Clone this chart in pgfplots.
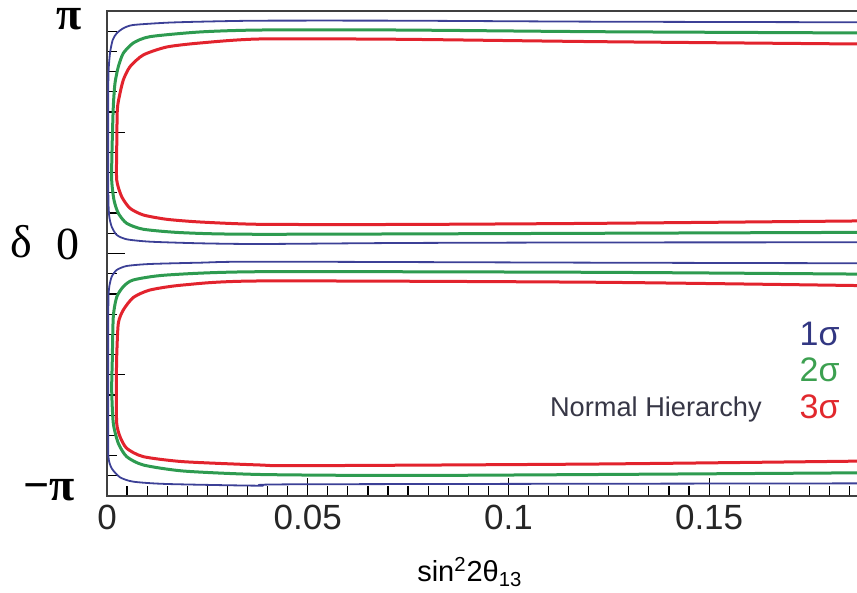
\documentclass[border=0pt]{standalone}
\usepackage{fontspec}
\setmainfont{Liberation Serif}
\newfontfamily\sansf{Liberation Sans}
\usepackage{pgfplots}
\pgfplotsset{compat=1.18}

\definecolor{cblue}{RGB}{60,64,150}
\definecolor{cgreen}{RGB}{46,155,80}
\definecolor{cred}{RGB}{226,35,45}
\definecolor{tblue}{RGB}{50,55,130}
\definecolor{tgreen}{RGB}{60,160,80}
\definecolor{tred}{RGB}{225,40,45}

\begin{document}
\begin{tikzpicture}
\begin{axis}[
  at={(0,0)}, anchor=south west,
  scale only axis,
  width=401.4pt, height=242.5pt,
  xmin=0, xmax=0.2,
  ymin=-3.14159, ymax=3.14159,
  clip=false,
  axis line style={black!75, line width=0.8pt},
  tick align=inside,
  xtick pos=bottom, ytick pos=left,
  xtick={0,0.05,0.1,0.15},
  xticklabels={0,0.05,0.1,0.15},
  minor xtick={0,0.005,...,0.2},
  ytick={-3.14159,-1.5708,0,1.5708,3.14159},
  yticklabels={},
  minor ytick={-2.87979,-2.61799,-2.35619,-2.09440,-1.83260,-1.30900,-1.04720,-0.78540,-0.52360,-0.26180,0.26180,0.52360,0.78540,1.04720,1.30900,1.83260,2.09440,2.35619,2.61799,2.87979},
  major tick length=9pt, minor tick length=5pt,
  every tick/.style={black, line width=0.6pt},
  xticklabel style={font=\sansf\fontsize{17.5}{17.5}\selectfont, inner sep=0pt, yshift=-4.5pt, text=black!85},
  every axis x label/.style={at={(axis description cs:0.452,-0.1767)}, anchor=base},
  xlabel={\sansf\fontsize{14.5}{14.5}\selectfont sin\textsuperscript{2}2θ\textsubscript{13}},
  every axis y label/.style={at={(axis description cs:-0.1071,0.5237)}, anchor=center, inner sep=0pt},
  ylabel={\fontsize{23}{23}\selectfont δ},
  every axis plot/.append style={smooth, tension=0.4, line join=round},
]
% 1 sigma, delta > 0
\addplot[cblue, line width=0.9pt] coordinates {
  (0.2,2.994) (0.1228,3.003) (0.0730,3.016) (0.0381,3.016) (0.0232,3.003)
  (0.01495,2.990) (0.00648,2.960) (0.00406,2.917) (0.00242,2.853)
  (0.00142,2.766) (0.00075,2.594) (0.00035,2.290) (0.00030,1.341)
  (0.00035,0.693) (0.00057,0.477) (0.00117,0.347) (0.00242,0.240)
  (0.00491,0.184) (0.01071,0.153) (0.0232,0.132) (0.0381,0.123)
  (0.0730,0.136) (0.1228,0.143) (0.2,0.145)
};
% 2 sigma, delta > 0
\addplot[cgreen, line width=1.5pt] coordinates {
  (0.2,2.854) (0.1228,2.873) (0.0730,2.895) (0.0381,2.895) (0.0232,2.870)
  (0.01071,2.809) (0.00655,2.727) (0.00406,2.594) (0.00282,2.420)
  (0.00199,2.205) (0.00157,1.902) (0.00125,1.341) (0.00117,0.952)
  (0.00174,0.693) (0.00282,0.521) (0.00491,0.391) (0.00904,0.314)
  (0.01893,0.269) (0.0381,0.249) (0.1228,0.262) (0.2,0.276)
};
% 3 sigma, delta > 0
\addplot[cred, line width=1.5pt] coordinates {
  (0.2,2.708) (0.1228,2.744) (0.0730,2.775) (0.0381,2.779) (0.0232,2.727)
  (0.01487,2.675) (0.00904,2.572) (0.00573,2.420) (0.00406,2.248)
  (0.00306,2.031) (0.00257,1.859) (0.00242,1.341) (0.00242,0.952)
  (0.00366,0.736) (0.00573,0.586) (0.00904,0.499) (0.01487,0.443)
  (0.0232,0.408) (0.0381,0.378) (0.0730,0.376) (0.1228,0.391) (0.2,0.428)
};
% 1 sigma, delta < 0
\addplot[cblue, line width=0.9pt] coordinates {
  (0.2,-0.128) (0.1228,-0.119) (0.0381,-0.106) (0.0232,-0.119)
  (0.01071,-0.136) (0.00491,-0.162) (0.00242,-0.214) (0.00117,-0.301)
  (0.00057,-0.430) (0.00035,-0.602) (0.00030,-1.380) (0.00030,-2.157)
  (0.00035,-2.632) (0.00117,-2.783) (0.00324,-2.899) (0.00655,-2.956)
  (0.01487,-2.986) (0.0381,-3.008) (0.0481,-2.990) (0.2,-2.977)
};
% 2 sigma, delta < 0
\addplot[cgreen, line width=1.5pt] coordinates {
  (0.2,-0.272) (0.1228,-0.244) (0.0381,-0.236) (0.01487,-0.279)
  (0.00655,-0.343) (0.00406,-0.430) (0.00242,-0.564) (0.00157,-0.819)
  (0.00132,-1.380) (0.00117,-1.768) (0.00157,-2.200) (0.00282,-2.459)
  (0.00491,-2.632) (0.00904,-2.740) (0.01901,-2.818) (0.0381,-2.863)
  (0.0730,-2.876) (0.1228,-2.863) (0.2,-2.837)
};
% 3 sigma, delta < 0
\addplot[cred, line width=1.5pt] coordinates {
  (0.2,-0.425) (0.1228,-0.373) (0.0381,-0.356) (0.01901,-0.408)
  (0.01071,-0.473) (0.00655,-0.570) (0.00406,-0.732) (0.00282,-0.904)
  (0.00242,-1.337) (0.00232,-1.768) (0.00242,-2.200) (0.00324,-2.373)
  (0.00491,-2.524) (0.00904,-2.632) (0.01901,-2.697) (0.0381,-2.740)
  (0.0481,-2.749) (0.1228,-2.727) (0.2,-2.682)
};
% y tick labels, set a little off their ticks as in the original
\node[anchor=east, inner sep=0pt, font=\fontsize{23}{23}\selectfont\bfseries, xshift=-12.5pt, yshift=-4.1pt]
  at (axis cs:0,3.14159) {π};
\node[anchor=east, inner sep=0pt, font=\fontsize{23}{23}\selectfont, xshift=-13.5pt, yshift=4.75pt]
  at (axis cs:0,0) {0};
\node[anchor=east, inner sep=0pt, font=\fontsize{23}{23}\selectfont\bfseries, xshift=-16pt, yshift=2.75pt]
  at (axis cs:0,-3.14159) {−π};
\node[anchor=base east, inner sep=0pt, font=\sansf\fontsize{13.6}{13.6}\selectfont, text={rgb,255:red,55;green,55;blue,70}]
  at (axis description cs:0.816,0.1635) {Normal Hierarchy};
\node[anchor=base east, inner sep=0pt, font=\sansf\fontsize{17}{17}\selectfont, text=tblue]
  at (axis description cs:0.913,0.311) {1σ};
\node[anchor=base east, inner sep=0pt, font=\sansf\fontsize{17}{17}\selectfont, text=tgreen]
  at (axis description cs:0.913,0.2357) {2σ};
\node[anchor=base east, inner sep=0pt, font=\sansf\fontsize{17}{17}\selectfont, text=tred]
  at (axis description cs:0.913,0.160) {3σ};
\end{axis}
\pgfresetboundingbox
\path[use as bounding box] (-53.5pt,-48.5pt) rectangle (375pt,248pt);
\end{tikzpicture}
\end{document}
